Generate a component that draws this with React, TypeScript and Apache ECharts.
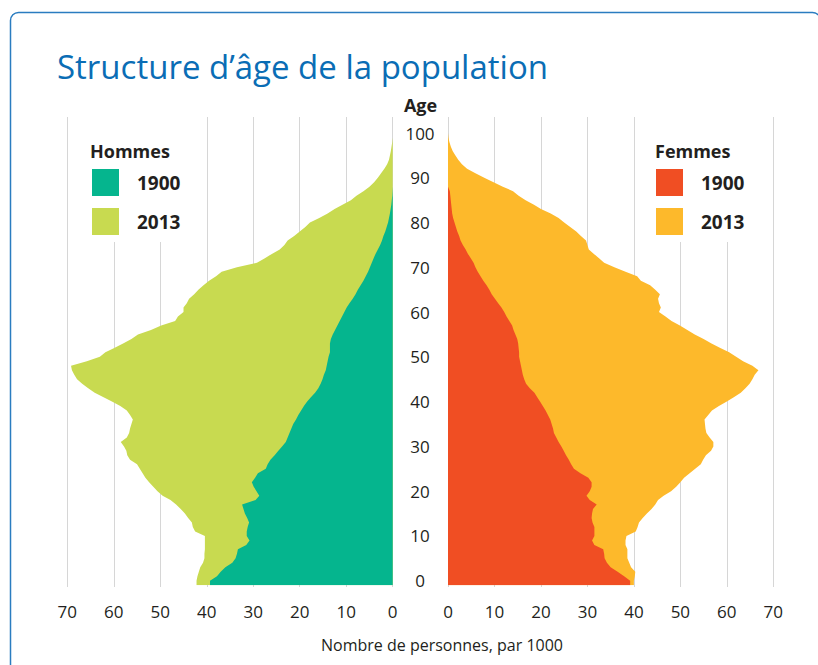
import React, { useEffect, useRef } from 'react';
import * as echarts from 'echarts';

// Ages 0..100 (category rows of the pyramid)
const ages: string[] = Array.from({ length: 101 }, (_, i) => String(i));
const ageTicks = [0, 10, 20, 30, 40, 50, 60, 70, 80, 90, 100];

// Number of persons, in thousands, by age
const men2013 = [
  42.2, 42.0, 41.7, 41.4, 40.8, 40.5, 40.5, 40.4, 40.4, 40.4,
  40.4, 42.5, 43.0, 43.2, 44.0, 44.7, 45.6, 46.6, 47.8, 49.5,
  50.6, 51.5, 52.4, 53.2, 53.8, 54.4, 55.0, 56.5, 57.1, 57.3,
  57.8, 58.5, 57.2, 56.7, 56.5, 56.2, 55.9, 56.5, 57.2, 58.6,
  60.4, 62.2, 64.1, 65.5, 66.8, 67.9, 68.5, 69.0, 69.2, 65.8,
  63.0, 61.8, 59.9, 58.0, 56.2, 54.8, 52.0, 49.8, 46.8, 46.2,
  45.0, 45.0, 44.3, 43.8, 42.7, 41.8, 40.7, 39.5, 38.0, 36.8,
  33.5, 29.2, 27.5, 26.0, 24.3, 23.3, 22.6, 21.2, 20.0, 18.8,
  17.8, 15.8, 14.0, 12.5, 10.8, 9.0, 7.8, 6.3, 5.0, 4.0,
  3.2, 2.5, 1.8, 1.2, 0.8, 0.6, 0.4, 0.25, 0.1, 0, 0,
];
const men1900 = [
  39.3, 37.8, 37.0, 36.0, 34.5, 33.8, 33.5, 33.3, 31.5, 30.8,
  31.4, 31.4, 31.2, 30.9, 31.3, 31.8, 32.1, 32.4, 29.5, 28.7,
  29.3, 29.9, 30.3, 29.6, 29.0, 27.3, 26.9, 26.3, 25.4, 24.6,
  23.8, 23.0, 22.6, 22.2, 21.8, 21.4, 20.8, 20.3, 19.7, 19.1,
  18.4, 17.6, 16.7, 16.0, 15.5, 15.1, 14.8, 14.4, 14.2, 14.0,
  13.8, 13.5, 13.5, 13.5, 13.3, 12.9, 12.4, 11.9, 11.4, 10.9,
  10.4, 9.9, 9.3, 8.6, 8.0, 7.5, 6.9, 6.3, 5.8, 5.3,
  4.9, 4.5, 4.1, 3.7, 3.2, 2.7, 2.3, 2.0, 1.6, 1.3,
  1.0, 0.8, 0.6, 0.45, 0.3, 0.2, 0.1, 0.05, 0, 0,
  0, 0, 0, 0, 0, 0, 0, 0, 0, 0, 0,
];
const women2013 = [
  40.0, 40.2, 40.3, 39.4, 39.0, 38.6, 38.6, 38.6, 38.2, 38.2,
  38.4, 40.4, 40.8, 41.1, 41.9, 42.8, 43.8, 44.6, 45.2, 46.4,
  48.0, 49.1, 50.0, 50.8, 52.0, 53.2, 54.4, 54.9, 55.5, 56.6,
  57.1, 57.1, 56.3, 55.6, 55.4, 55.3, 55.2, 56.0, 56.8, 58.3,
  60.0, 61.5, 63.0, 64.0, 64.9, 65.5, 66.0, 66.8, 65.5, 63.5,
  62.0, 60.5, 58.6, 56.7, 55.0, 53.1, 51.5, 49.9, 48.1, 46.8,
  45.4, 45.8, 45.4, 45.2, 45.6, 44.6, 43.5, 41.5, 40.7, 38.2,
  35.8, 33.6, 32.5, 31.4, 30.3, 30.0, 29.7, 28.6, 27.6, 26.3,
  25.0, 23.8, 22.1, 20.0, 18.5, 16.7, 15.2, 14.0, 11.8, 9.8,
  7.8, 5.9, 4.1, 3.0, 2.2, 1.6, 1.0, 0.6, 0.3, 0.1, 0,
];
const women1900 = [
  39.2, 37.9, 36.5, 35.0, 34.2, 33.7, 33.6, 33.4, 31.5, 31.0,
  31.5, 31.5, 31.5, 31.1, 30.9, 31.0, 31.2, 32.0, 30.5, 29.8,
  30.5, 30.9, 30.9, 30.2, 28.5, 27.1, 26.5, 26.0, 25.4, 24.9,
  24.4, 23.8, 23.3, 22.8, 22.6, 22.3, 22.0, 21.5, 21.0, 20.4,
  19.8, 19.2, 18.6, 17.6, 16.8, 16.4, 16.1, 15.9, 15.7, 15.5,
  15.3, 15.3, 15.2, 15.1, 14.9, 14.5, 14.1, 13.8, 13.2, 12.6,
  12.1, 11.5, 10.8, 10.1, 9.4, 8.9, 8.3, 7.6, 7.0, 6.4,
  5.9, 5.5, 4.9, 4.3, 3.8, 3.2, 2.7, 2.4, 2.0, 1.7,
  1.4, 1.1, 0.9, 0.8, 0.7, 0.6, 0.5, 0.4, 0, 0,
  0, 0, 0, 0, 0, 0, 0, 0, 0, 0, 0,
];

const FONT = '"Open Sans", "Noto Sans", sans-serif';
const TEXT = '#231f20';
const GRID_LINE = '#d6d6d6';
const C_M1900 = '#05b58e';
const C_M2013 = '#c8da50';
const C_F1900 = '#f04e23';
const C_F2013 = '#fdb92b';

function buildOption(): any {
  const W = 818;
  const H = 665;
  // frame (gridlines / labels)
  const frameTop = 117;
  const frameBottomY = 587;
  // data rows: age a at y = 580.7 - 4.477 a ; one base row below age 0
  const ageStep = 4.477;
  const age0Y = 580.7;
  const plotTop = age0Y - 100 * ageStep;
  const plotBottomY = age0Y + ageStep;
  const labelMin = -(frameBottomY - age0Y) / ageStep;
  const labelMax = 100 + (plotTop - frameTop) / ageStep;

  const leftL = 67.3;
  const leftR = W - 392.7;
  const rightL = 448;
  const rightR = W - 773.3;

  const cats = ['', ...ages];
  const withBase = (arr: number[]) => [arr[0], ...arr];

  const frameX = (grid: number, inverse: boolean) => ({
    gridIndex: grid,
    type: 'value',
    min: 0,
    max: 70,
    interval: 10,
    inverse,
    axisLine: { show: false },
    axisTick: { show: false },
    axisLabel: { fontSize: 17, color: TEXT, fontFamily: FONT, margin: 16 },
    splitLine: { show: true, lineStyle: { color: GRID_LINE, width: 1 } },
  });
  const dataX = (grid: number, inverse: boolean) => ({
    gridIndex: grid,
    type: 'value',
    min: 0,
    max: 70,
    inverse,
    show: false,
    splitLine: { show: false },
  });
  const dataY = (grid: number) => ({
    gridIndex: grid,
    type: 'category',
    data: cats,
    boundaryGap: false,
    show: false,
  });
  const area = (name: string, color: string, xi: number, yi: number, values: number[]) => ({
    name,
    type: 'line',
    xAxisIndex: xi,
    yAxisIndex: yi,
    data: withBase(values),
    color,
    symbol: 'none',
    lineStyle: { width: 0, color },
    areaStyle: { color, opacity: 1 },
    itemStyle: { color, borderWidth: 0 },
    emphasis: { disabled: true },
    silent: true,
  });
  const legend = (left: number, names: string[]) => ({
    orient: 'vertical',
    left,
    top: 169,
    padding: 0,
    itemWidth: 27,
    itemHeight: 27,
    itemGap: 12,
    icon: 'rect',
    selectedMode: false,
    data: names,
    formatter: (n: string) => n.split(' ')[1],
    itemStyle: { borderWidth: 0 },
    textStyle: {
      fontSize: 19,
      fontWeight: 'bold',
      color: TEXT,
      fontFamily: FONT,
      padding: [0, 0, 0, 13],
    },
  });

  return {
    animation: false,
    backgroundColor: '#ffffff',
    textStyle: { fontFamily: FONT },
    grid: [
      { left: leftL, right: leftR, top: frameTop, bottom: H - frameBottomY },
      { left: rightL, right: rightR, top: frameTop, bottom: H - frameBottomY },
      { left: leftL, right: leftR, top: plotTop, bottom: H - plotBottomY },
      { left: rightL, right: rightR, top: plotTop, bottom: H - plotBottomY },
    ],
    xAxis: [frameX(0, true), frameX(1, false), dataX(2, true), dataX(3, false)],
    yAxis: [
      { gridIndex: 0, type: 'value', min: labelMin, max: labelMax, show: false },
      {
        gridIndex: 1,
        type: 'value',
        min: labelMin,
        max: labelMax,
        position: 'left',
        axisLine: { show: false },
        axisTick: { show: false },
        splitLine: { show: false },
        axisLabel: {
          customValues: ageTicks,
          align: 'center',
          margin: 28,
          fontSize: 17,
          color: TEXT,
          fontFamily: FONT,
        },
      },
      dataY(2),
      dataY(3),
    ],
    legend: [
      legend(92, ['Hommes 1900', 'Hommes 2013']),
      legend(656, ['Femmes 1900', 'Femmes 2013']),
    ],
    series: [
      area('Hommes 2013', C_M2013, 2, 2, men2013),
      area('Hommes 1900', C_M1900, 2, 2, men1900),
      area('Femmes 2013', C_F2013, 3, 3, women2013),
      area('Femmes 1900', C_F1900, 3, 3, women1900),
    ],
    graphic: [
      {
        type: 'rect',
        z: 3,
        silent: true,
        shape: { x: 10.5, y: 12.5, width: 810, height: 700, r: 8 },
        style: { fill: 'none', stroke: '#2a7cc0', lineWidth: 1.5 },
      },
      {
        type: 'rect',
        z: 3,
        silent: true,
        shape: { x: 72, y: frameTop - 2, width: 128, height: 127 },
        style: { fill: '#ffffff' },
      },
      {
        type: 'rect',
        z: 3,
        silent: true,
        shape: { x: 642, y: frameTop - 2, width: 126, height: 127 },
        style: { fill: '#ffffff' },
      },
      {
        type: 'text',
        z: 5,
        x: 57,
        y: 66,
        style: {
          text: 'Structure d\u2019\u00e2ge de la population',
          fontSize: 33,
          fontFamily: FONT,
          fill: '#0a6db5',
          verticalAlign: 'middle',
          align: 'left',
        },
      },
      {
        type: 'text',
        z: 5,
        x: 420.5,
        y: 105,
        style: {
          text: 'Age',
          fontSize: 18,
          fontWeight: 'bold',
          fontFamily: FONT,
          fill: TEXT,
          align: 'center',
          verticalAlign: 'middle',
        },
      },
      {
        type: 'text',
        z: 5,
        x: 90,
        y: 151,
        style: {
          text: 'Hommes',
          fontSize: 18,
          fontWeight: 'bold',
          fontFamily: FONT,
          fill: TEXT,
          align: 'left',
          verticalAlign: 'middle',
        },
      },
      {
        type: 'text',
        z: 5,
        x: 655,
        y: 151,
        style: {
          text: 'Femmes',
          fontSize: 18,
          fontWeight: 'bold',
          fontFamily: FONT,
          fill: TEXT,
          align: 'left',
          verticalAlign: 'middle',
        },
      },
      {
        type: 'text',
        z: 5,
        x: 442,
        y: 645,
        style: {
          text: 'Nombre de personnes, par 1000',
          fontSize: 16,
          fontFamily: FONT,
          fill: TEXT,
          align: 'center',
          verticalAlign: 'middle',
        },
      },
    ],
  };
}

export default function App() {
  const ref = useRef<HTMLDivElement>(null);
  useEffect(() => {
    if (!ref.current) return;
    const chart = echarts.init(ref.current, undefined, { renderer: 'svg' });
    chart.setOption(buildOption());
    return () => {
      chart.dispose();
    };
  }, []);
  return (
    <div
      ref={ref}
      style={{ position: 'fixed', left: 0, top: 0, width: 818, height: 665, background: '#fff' }}
    />
  );
}
